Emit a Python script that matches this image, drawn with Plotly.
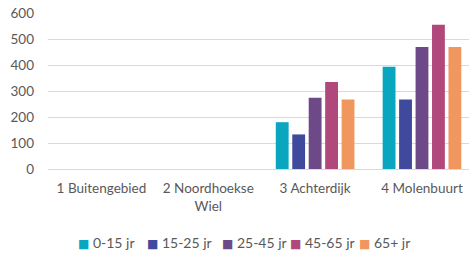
import plotly.graph_objects as go

categories = ["1 Buitengebied", "2 Noordhoekse<br>Wiel", "3 Achterdijk", "4 Molenbuurt"]
series_names = ["0-15 jr", "15-25 jr", "25-45 jr", "45-65 jr", "65+ jr"]
v_0_15 = [0, 0, 180, 393]
v_15_25 = [0, 0, 133, 267]
v_25_45 = [0, 0, 274, 469]
v_45_65 = [0, 0, 335, 555]
v_65plus = [0, 0, 267, 469]
series_values = [v_0_15, v_15_25, v_25_45, v_45_65, v_65plus]
colors = ["#0aa6c0", "#3f4a9c", "#6d4a87", "#b0487c", "#f0965f"]
y_ticks = [0, 100, 200, 300, 400, 500, 600]

TEXT = "#595959"
FONT_FAMILY = "Lato, Open Sans, sans-serif"
font = dict(family=FONT_FAMILY, size=13.5, color=TEXT)

W, H = 469, 253
ML, MR, MT, MB = 47.5, 0, 13, 84
plot_w = W - ML - MR
plot_h = H - MT - MB

fig = go.Figure()
for name, vals, col in zip(series_names, series_values, colors):
    fig.add_trace(go.Bar(x=categories, y=vals, name=name, showlegend=False,
                         marker=dict(color=col, line=dict(width=0))))

# legend drawn as a row of coloured squares with labels
legend_left_px = [77, 146, 221, 289, 358]
legend_center_py = 242
for name, col, px in zip(series_names, colors, legend_left_px):
    fig.add_annotation(
        xref="paper", yref="paper",
        x=(px - ML) / plot_w, y=(H - MB - legend_center_py) / plot_h,
        xanchor="left", yanchor="middle", showarrow=False,
        text=f"<span style='color:{col};font-family:DejaVu Sans;font-size:12px'>■</span> {name}",
        font=dict(family=FONT_FAMILY, size=14, color=TEXT),
        borderpad=0,
    )

fig.update_layout(
    width=W, height=H,
    margin=dict(l=ML, r=MR, t=MT, b=MB, autoexpand=False),
    paper_bgcolor="white", plot_bgcolor="white",
    font=font,
    barmode="group", bargap=0.23, bargroupgap=0.22,
    showlegend=False,
)
fig.update_yaxes(range=[0, 600], tickvals=y_ticks, showgrid=True, gridcolor="#d9d9d9", gridwidth=1,
                 zeroline=False, showline=False, ticks="", ticklabelstandoff=13,
                 ticklabeloverflow="allow", tickfont=dict(size=13.5))
# the visible part of the category axis ends at the right edge of the picture
fig.update_xaxes(range=[-0.5, 3.44], showgrid=False, showline=True, linecolor="#d9d9d9", ticks="",
                 tickangle=0, ticklabelstandoff=7, ticklabeloverflow="allow", tickfont=dict(size=13.5))

fig.write_html("out.html", config={"displayModeBar": False},
               post_script="document.body.style.margin='0';")
